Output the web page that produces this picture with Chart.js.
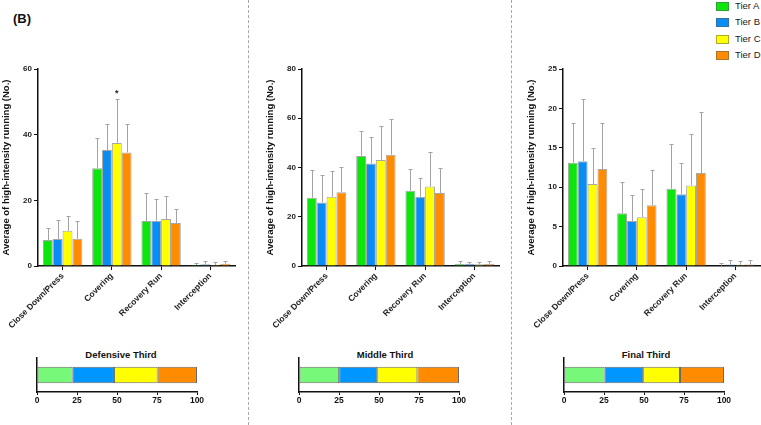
<!DOCTYPE html>
<html>
<head>
<meta charset="utf-8">
<script src="https://cdn.jsdelivr.net/npm/chart.js@4.4.0/dist/chart.umd.min.js"></script>
<style>
html, body { margin: 0; padding: 0; background: #fff; }
#wrap { position: relative; width: 761px; height: 425px; overflow: hidden; font-family: Arial, "Liberation Sans", sans-serif; color: #111; }
#wrap canvas { position: absolute; }
.sep { position: absolute; top: 0; width: 0; height: 425px; border-left: 1px dashed #a8a8a8; }
#tag { position: absolute; left: 13px; top: 11px; font-weight: bold; font-size: 13px; }
.leg { position: absolute; left: 716px; height: 12px; line-height: 12px; font-size: 9.5px; color: #222; white-space: nowrap; }
.leg i { position: absolute; left: 0; top: 2px; width: 11px; height: 7px; border: 1px solid rgba(90,90,90,0.5); }
.leg span { position: absolute; left: 19px; top: 0; }
.ttl { position: absolute; top: 349px; font-weight: bold; font-size: 9.5px; line-height: 11px; transform: translateX(-50%); white-space: nowrap; }
</style>
</head>
<body>
<div id="wrap">
  <div id="tag">(B)</div>
  <div class="sep" style="left:248px"></div>
  <div class="sep" style="left:511px"></div>
  <div id="legend"></div>

  <canvas id="defBars" width="240" height="270" style="left:0;top:60px"></canvas>
  <canvas id="midBars" width="240" height="270" style="left:264px;top:60px"></canvas>
  <canvas id="finBars" width="236" height="270" style="left:525px;top:60px"></canvas>

  <div class="ttl" style="left:121px">Defensive Third</div>
  <div class="ttl" style="left:385px">Middle Third</div>
  <div class="ttl" style="left:646px">Final Third</div>
  <canvas id="defShare" width="182" height="60" style="left:27px;top:350px"></canvas>
  <canvas id="midShare" width="182" height="60" style="left:289px;top:350px"></canvas>
  <canvas id="finShare" width="182" height="60" style="left:554px;top:350px"></canvas>
</div>
<script>
const categories = ['Close Down/Press', 'Covering', 'Recovery Run', 'Interception'];
const tiers = ['Tier A', 'Tier B', 'Tier C', 'Tier D'];
const tierColors = ['#0de60d', '#0a8cf5', '#ffff00', '#ff8c00'];
const shareColors = ['#78f878', '#0096ff', '#ffff00', '#ff8c00'];

// mean per tier (rows A..D), columns follow categories
const defMeans = [[7.9, 29.8, 13.7, 0.3], [8.2, 35.3, 13.8, 0.5], [10.7, 37.5, 14.3, 0.3], [8.3, 34.6, 13.1, 0.7]];
const defSds   = [[3.6, 9.2, 8.6, 0.6], [5.8, 8.1, 6.6, 1.0], [4.6, 13.4, 7.0, 1.0], [5.5, 8.8, 4.3, 0.8]];
const midMeans = [[27.7, 44.7, 30.6, 0.8], [25.8, 41.6, 28.1, 0.8], [28.1, 43.0, 32.3, 0.7], [30.0, 45.2, 29.6, 0.8]];
const midSds   = [[11.1, 10.1, 8.7, 1.1], [11.2, 10.7, 7.7, 1.0], [10.4, 13.7, 13.9, 0.9], [10.3, 14.3, 10.1, 1.1]];
const finMeans = [[13.1, 6.7, 9.8, 0.05], [13.3, 5.7, 9.1, 0.2], [10.4, 6.2, 10.2, 0.15], [12.3, 7.7, 11.8, 0.2]];
const finSds   = [[5.0, 4.0, 5.7, 0.35], [7.9, 3.3, 4.0, 0.6], [4.6, 3.6, 6.5, 0.45], [5.8, 4.5, 7.7, 0.6]];
const defStars = [[2, 1]]; // [tier, category]

// share of each tier (%)
const defShare = [22.3, 25.8, 27.3, 24.6];
const midShare = [25.1, 23.8, 25.1, 26.0];
const finShare = [25.4, 24.1, 23.0, 27.5];

Chart.defaults.font.family = 'Arial, "Liberation Sans", sans-serif';

// legend
{
    let html = '';
    tiers.forEach((t, i) => {
        html += `<div class="leg" style="top:${(16.3 * i).toFixed(1)}px"><i style="background:${tierColors[i]}"></i><span>${t}</span></div>`;
    });
    document.getElementById('legend').innerHTML = html;
}

const errorBars = {
    id: 'errorBars',
    afterDatasetsDraw(chart, args, opts) {
        const {ctx} = chart;
        const y = chart.scales.y;
        ctx.save();
        ctx.strokeStyle = '#a3a3a3';
        ctx.lineWidth = 1;
        chart.data.datasets.forEach((ds, i) => {
            chart.getDatasetMeta(i).data.forEach((bar, j) => {
                const top = Math.round(y.getPixelForValue(ds.data[j] + ds.sd[j])) + 0.5;
                const x = Math.round(bar.x) + 0.5;
                ctx.beginPath();
                ctx.moveTo(x, bar.y);
                ctx.lineTo(x, top);
                ctx.moveTo(x - 2, top);
                ctx.lineTo(x + 2, top);
                ctx.stroke();
            });
        });
        // significance stars
        ctx.fillStyle = '#222';
        ctx.font = 'bold 9px Arial, "Liberation Sans", sans-serif';
        ctx.textAlign = 'center';
        for (const [t, c] of (opts.stars || [])) {
            const ds = chart.data.datasets[t];
            const bar = chart.getDatasetMeta(t).data[c];
            ctx.fillText('*', bar.x, y.getPixelForValue(ds.data[c] + ds.sd[c]) - 3);
        }
        ctx.restore();
    }
};

function barChart(id, means, sds, maxY, step, padR, stars) {
    new Chart(document.getElementById(id), {
        type: 'bar',
        data: {
            labels: categories,
            datasets: tiers.map((t, i) => ({
                label: t,
                data: means[i],
                sd: sds[i],
                backgroundColor: tierColors[i],
                borderColor: 'rgba(95,95,95,0.55)',
                borderWidth: 1
            }))
        },
        options: {
            responsive: false,
            animation: false,
            layout: { padding: { top: 9, right: padR, left: 0, bottom: 0 } },
            datasets: { bar: { categoryPercentage: 0.8, barPercentage: 1 } },
            plugins: { legend: { display: false }, tooltip: { enabled: false }, errorBars: { stars: stars } },
            scales: {
                x: {
                    grid: { drawOnChartArea: false, offset: false, color: '#111', tickLength: 4 },
                    border: { color: '#111', width: 1.5 },
                    ticks: { maxRotation: 45, minRotation: 45, padding: 1, color: '#222', font: { size: 8.5, weight: 'bold' } },
                    afterFit: s => { s.height = 64; }
                },
                y: {
                    min: 0, max: maxY,
                    ticks: { stepSize: step, padding: 2, color: '#222', font: { size: 8, weight: 'bold' } },
                    grid: { drawOnChartArea: false, color: '#111', tickLength: 4 },
                    border: { color: '#111', width: 1.5 },
                    title: { display: true, text: 'Average of high-intensity running (No.)', color: '#111', font: { size: 9.5, weight: 'bold' }, padding: { top: 1, bottom: 0 } },
                    afterFit: s => { s.width = 38; }
                }
            }
        },
        plugins: [errorBars]
    });
}

function shareChart(id, shares) {
    new Chart(document.getElementById(id), {
        type: 'bar',
        data: {
            labels: [''],
            datasets: tiers.map((t, i) => ({
                label: t,
                data: [shares[i]],
                backgroundColor: shareColors[i],
                borderColor: '#6a6a6a',
                borderWidth: 1,
                borderSkipped: false
            }))
        },
        options: {
            indexAxis: 'y',
            responsive: false,
            animation: false,
            layout: { padding: { top: 8, right: 12, left: 0, bottom: 0 } },
            datasets: { bar: { categoryPercentage: 1, barPercentage: 0.48 } },
            plugins: { legend: { display: false }, tooltip: { enabled: false } },
            scales: {
                x: {
                    stacked: true, min: 0, max: 100,
                    ticks: { stepSize: 25, padding: 1, color: '#111', font: { size: 8.5, weight: 'bold' } },
                    grid: { drawOnChartArea: false, color: '#111', tickLength: 3 },
                    border: { color: '#111', width: 1.5 },
                    afterFit: s => { s.height = 18; }
                },
                y: {
                    stacked: true,
                    ticks: { display: false },
                    grid: { display: false },
                    border: { color: '#111', width: 1.5 },
                    afterFit: s => { s.width = 10; }
                }
            }
        }
    });
}

barChart('defBars', defMeans, defSds, 60, 20, 5, defStars);
barChart('midBars', midMeans, midSds, 80, 20, 5, []);
barChart('finBars', finMeans, finSds, 25, 5, 1, []);

shareChart('defShare', defShare);
shareChart('midShare', midShare);
shareChart('finShare', finShare);
</script>
</body>
</html>
